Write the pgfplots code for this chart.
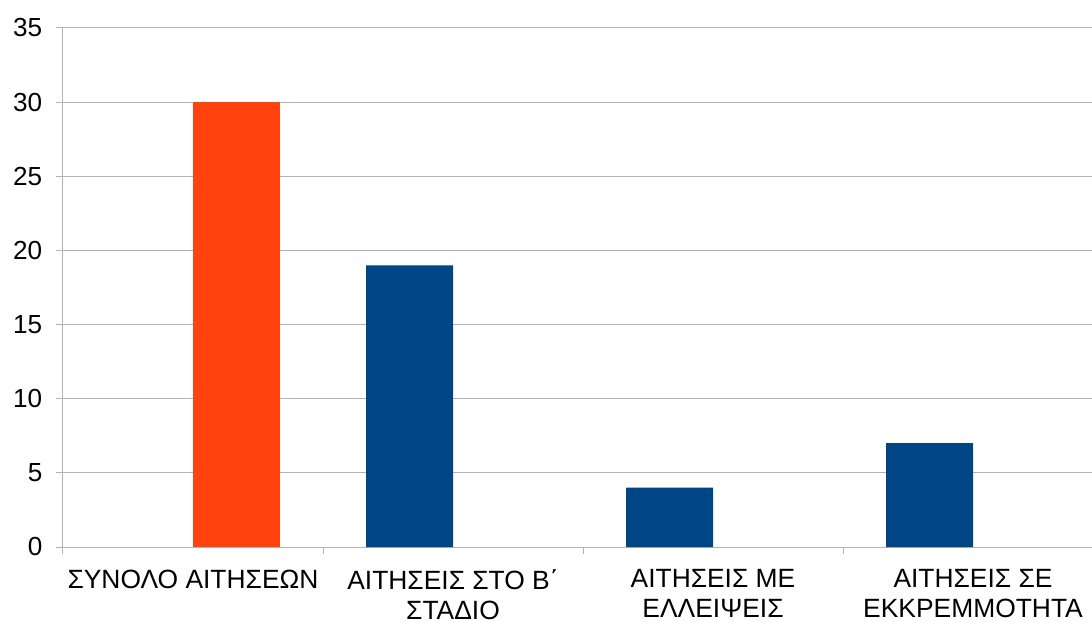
\documentclass[border=0pt]{standalone}
\usepackage{fontspec}
\setmainfont{Liberation Sans}
\usepackage{pgfplots}
\pgfplotsset{compat=1.18}
\definecolor{lblue}{HTML}{004586}
\definecolor{lorange}{HTML}{FF420E}
\definecolor{gridgray}{HTML}{B3B3B3}
\begin{document}
\begin{tikzpicture}[x=1pt,y=1pt]
\useasboundingbox (-47.25,-55.5) rectangle (771.75,410.25);
\begin{axis}[
  at={(0,0)}, anchor=south west,
  scale only axis, width=771.75pt, height=389.25pt,
  xmin=-0.5, xmax=3.4577, ymin=0, ymax=35,
  axis x line*=bottom, axis y line*=left,
  axis line style={gridgray, line width=0.75pt},
  ytick={0,5,...,35},
  ymajorgrids, grid style={gridgray, line width=0.75pt},
  tick style={gridgray, line width=0.75pt},
  tick align=outside,
  major tick length=5.5pt, minor tick length=5.5pt,
  xtick={0,1,2,3},
  major x tick style={draw=none},
  minor xtick={-0.5,0.5,1.5,2.5},
  xticklabels={{ΣΥΝΟΛΟ ΑΙΤΗΣΕΩΝ},{ΑΙΤΗΣΕΙΣ ΣΤΟ Β΄\\ΣΤΑΔΙΟ},{ΑΙΤΗΣΕΙΣ ΜΕ\\ΕΛΛΕΙΨΕΙΣ},{ΑΙΤΗΣΕΙΣ ΣΕ\\ΕΚΚΡΕΜΜΟΤΗΤΑ}},
  xticklabel style={font=\fontsize{19.8}{22.5}\selectfont, align=center, anchor=north, yshift=-8pt},
  yticklabel style={font=\fontsize{19.6}{22}\selectfont, anchor=east, xshift=-6.5pt},
  /pgf/number format/assume math mode=true,
]
\addplot[ybar, bar width=65.25pt, bar shift=-32.625pt, fill=lblue, draw=none] coordinates {(1,19) (2,4) (3,7)};
\addplot[ybar, bar width=65.25pt, bar shift=32.625pt, fill=lorange, draw=none] coordinates {(0,30)};
\end{axis}
\end{tikzpicture}
\end{document}
